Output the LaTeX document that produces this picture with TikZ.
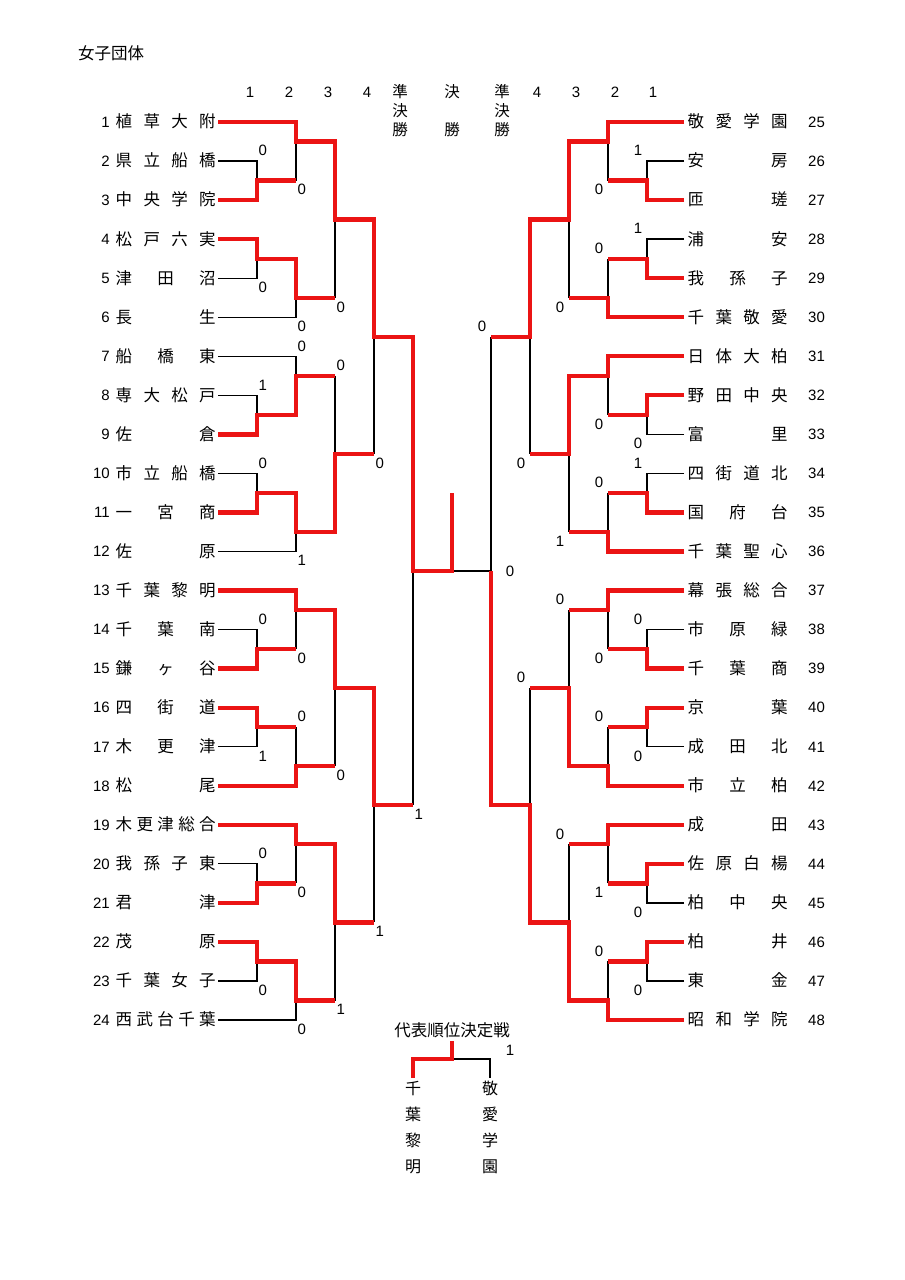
\documentclass[tikz,border=0pt]{standalone}
\usepackage{fontspec}
\setmainfont{Liberation Sans}
\newfontfamily\jpf{Noto Sans CJK JP}
\definecolor{winred}{RGB}{235,20,20}
\tikzset{
  win/.style={draw=winred,line width=4.3pt,line join=miter},
  lose/.style={draw=black,line width=1.3pt},
  jp/.style={font={\jpf\fontsize{16.5}{18}\selectfont},inner sep=0pt},
  num/.style={font={\fontsize{15}{16}\selectfont},inner sep=0pt},
  vjp/.style={font={\jpf\fontsize{16}{26}\selectfont},align=center,inner xsep=0pt,inner ysep=3pt},
  hjp/.style={font={\jpf\fontsize{15.5}{19}\selectfont},align=center,inner sep=0pt},
}
\newcommand\nm[1]{\hbox to 100pt{\spaceskip=0pt plus 1fil\relax #1}}
\begin{document}
\begin{tikzpicture}[x=1pt,y=-1pt]
\fill[white] (0,0) rectangle (905,1280);
\path[use as bounding box] (0,0) rectangle (905,1280);

% grid of named points
\foreach \n/\x in {Ls/218,L1/257,L2/296,L3/335,L4/374,L5/413,M/452,R5/491,R4/530,R3/569,R2/608,R1/647,Rs/684}{
  \foreach \r in {0,...,46}{\coordinate (\n-\r) at (\x,{122+19.522*\r});}
}

% title and headers
\node[font={\jpf\fontsize{16.5}{18}\selectfont},inner sep=0pt,anchor=west] (title) at (78,53) {女子団体};
\foreach \t/\x [count=\k] in {1/250,2/289,3/328,4/367,4/537,3/576,2/615,1/653}
  \node[num] (hd\k) at (\x,92) {\t};
\node[hjp,anchor=north] (hsL) at (400,84.5) {準\\決\\勝};
\node[hjp] (hf1) at (452,92) {決};
\node[hjp] (hf2) at (452,130) {勝};
\node[hjp,anchor=north] (hsR) at (502,84.5) {準\\決\\勝};

% teams left
\foreach \t [count=\i] in {植 草 大 附,県 立 船 橋,中 央 学 院,松 戸 六 実,津 田 沼,長 生,船 橋 東,専 大 松 戸,佐 倉,市 立 船 橋,一 宮 商,佐 原,千 葉 黎 明,千 葉 南,鎌 ヶ 谷,四 街 道,木 更 津,松 尾,木 更 津 総 合,我 孫 子 東,君 津,茂 原,千 葉 女 子,西 武 台 千 葉}{
  \pgfmathtruncatemacro\r{2*(\i-1)}
  \node[jp,anchor=base west] (nL\i) at ([shift={(-102.5,5.9)}]Ls-\r) {\nm{\t}};
  \node[num,anchor=base east] (kL\i) at ([shift={(-108,5.3)}]Ls-\r) {\i};
}
% teams right
\foreach \t [count=\i from 25] in {敬 愛 学 園,安 房,匝 瑳,浦 安,我 孫 子,千 葉 敬 愛,日 体 大 柏,野 田 中 央,富 里,四 街 道 北,国 府 台,千 葉 聖 心,幕 張 総 合,市 原 緑,千 葉 商,京 葉,成 田 北,市 立 柏,成 田,佐 原 白 楊,柏 中 央,柏 井,東 金,昭 和 学 院}{
  \pgfmathtruncatemacro\r{2*(\i-25)}
  \node[jp,anchor=base west] (nR\i) at ([shift={(3.5,5.9)}]Rs-\r) {\nm{\t}};
  \node[num,anchor=base west] (kR\i) at ([shift={(124,5.3)}]Rs-\r) {\i};
}

% losing lines (black)
\draw[lose] (Ls-2) -| (L1-3);
\draw[lose] (L2-3) -- (L2-1);
\draw[lose] (Ls-8) -| (L1-7);
\draw[lose] (Ls-10) -| (L2-9);
\draw[lose] (L3-9) -- (L3-5);
\draw[lose] (L4-17) -- (L4-11);
\draw[lose] (L5-35) -- (L5-23);
\draw[lose] (Ls-12) -| (L2-13);
\draw[lose] (Ls-14) -| (L1-15);
\draw[lose] (L3-13) -- (L3-17);
\draw[lose] (Ls-18) -| (L1-19);
\draw[lose] (Ls-22) -| (L2-21);
\draw[lose] (Ls-26) -| (L1-27);
\draw[lose] (L2-27) -- (L2-25);
\draw[lose] (L2-31) -- (L2-33);
\draw[lose] (Ls-32) -| (L1-31);
\draw[lose] (L3-33) -- (L3-29);
\draw[lose] (L4-41) -- (L4-35);
\draw[lose] (Ls-38) -| (L1-39);
\draw[lose] (L2-39) -- (L2-37);
\draw[lose] (Ls-44) -| (L1-43);
\draw[lose] (Ls-46) -| (L2-45);
\draw[lose] (L3-45) -- (L3-41);
\draw[lose] (M-23) -- (R5-23);
\draw[lose] (Rs-2) -| (R1-3);
\draw[lose] (R2-3) -- (R2-1);
\draw[lose] (Rs-6) -| (R1-7);
\draw[lose] (R2-7) -- (R2-9);
\draw[lose] (R3-9) -- (R3-5);
\draw[lose] (R4-17) -- (R4-11);
\draw[lose] (R5-11) -- (R5-23);
\draw[lose] (Rs-16) -| (R1-15);
\draw[lose] (R2-15) -- (R2-13);
\draw[lose] (Rs-18) -| (R1-19);
\draw[lose] (R2-19) -- (R2-21);
\draw[lose] (R3-21) -- (R3-17);
\draw[lose] (Rs-26) -| (R1-27);
\draw[lose] (R2-27) -- (R2-25);
\draw[lose] (R3-25) -- (R3-29);
\draw[lose] (Rs-32) -| (R1-31);
\draw[lose] (R2-31) -- (R2-33);
\draw[lose] (R4-29) -- (R4-35);
\draw[lose] (Rs-40) -| (R1-39);
\draw[lose] (R2-39) -- (R2-37);
\draw[lose] (R3-37) -- (R3-41);
\draw[lose] (Rs-44) -| (R1-43);
\draw[lose] (R2-43) -- (R2-45);

% winning lines (red)
\draw[win] (Ls-0) -| (L2-1) -| (L3-5) -| (L4-11) -| (L5-23) -| (M-19);
\draw[win] (Ls-4) -| (L1-3) -- (L2-3);
\draw[win] (Ls-6) -| (L1-7) -| (L2-9) -- (L3-9);
\draw[win] (Ls-16) -| (L1-15) -| (L2-13) -- (L3-13);
\draw[win] (Ls-20) -| (L1-19) -| (L2-21) -| (L3-17) -- (L4-17);
\draw[win] (Ls-24) -| (L2-25) -| (L3-29) -| (L4-35) -- (L5-35);
\draw[win] (Ls-28) -| (L1-27) -- (L2-27);
\draw[win] (Ls-30) -| (L1-31) -- (L2-31);
\draw[win] (Ls-34) -| (L2-33) -- (L3-33);
\draw[win] (Ls-36) -| (L2-37) -| (L3-41) -- (L4-41);
\draw[win] (Ls-40) -| (L1-39) -- (L2-39);
\draw[win] (Ls-42) -| (L1-43) -| (L2-45) -- (L3-45);
\draw[win] (Rs-0) -| (R2-1) -| (R3-5) -| (R4-11) -- (R5-11);
\draw[win] (Rs-4) -| (R1-3) -- (R2-3);
\draw[win] (Rs-8) -| (R1-7) -- (R2-7);
\draw[win] (Rs-10) -| (R2-9) -- (R3-9);
\draw[win] (Rs-12) -| (R2-13) -| (R3-17) -- (R4-17);
\draw[win] (Rs-14) -| (R1-15) -- (R2-15);
\draw[win] (Rs-20) -| (R1-19) -- (R2-19);
\draw[win] (Rs-22) -| (R2-21) -- (R3-21);
\draw[win] (Rs-24) -| (R2-25) -- (R3-25);
\draw[win] (Rs-28) -| (R1-27) -- (R2-27);
\draw[win] (Rs-30) -| (R1-31) -- (R2-31);
\draw[win] (Rs-34) -| (R2-33) -| (R3-29) -- (R4-29);
\draw[win] (Rs-36) -| (R2-37) -- (R3-37);
\draw[win] (Rs-38) -| (R1-39) -- (R2-39);
\draw[win] (Rs-42) -| (R1-43) -- (R2-43);
\draw[win] (Rs-46) -| (R2-45) -| (R3-41) -| (R4-35) -| (R5-23);

% scores left
\foreach \c/\r/\dy/\t [count=\k] in {L1/2/-10.5/0,L2/3/9/0,L1/8/9/0,L3/9/9/0,L2/10/9/0,L2/12/-10.5/0,L3/13/-10.5/0,L1/14/-10.5/1,L4/17/9/0,L1/18/-10.5/0,L2/22/9/1,L1/26/-10.5/0,L2/27/9/0,L2/31/-10.5/0,L1/32/9/1,L3/33/9/0,L5/35/9/1,L1/38/-10.5/0,L2/39/9/0,L4/41/9/1,L1/44/9/0,L3/45/9/1,L2/46/9/0}
  \node[num,anchor=base west] (sL\k) at ([shift={(1.5,\dy+5.3)}]\c-\r) {\t};
% scores right
\foreach \c/\r/\dy/\t [count=\k] in {R1/2/-10.5/1,R2/3/9/0,R1/6/-10.5/1,R2/7/-10.5/0,R3/9/9/0,R5/11/-10.5/0,R2/15/9/0,R1/16/9/0,R1/18/-10.5/1,R4/17/9/0,R2/19/-10.5/0,R3/21/9/1,R3/25/-10.5/0,R4/29/-10.5/0,R1/26/-10.5/0,R2/27/9/0,R2/31/-10.5/0,R1/32/9/0,R3/37/-10.5/0,R2/39/9/1,R1/40/9/0,R2/43/-10.5/0,R1/44/9/0}
  \node[num,anchor=base east] (sR\k) at ([shift={(-4.5,\dy+5.3)}]\c-\r) {\t};
\node[num] (sF) at ([shift={(19,0)}]R5-23) {0};

% representative ranking match
\node[font={\jpf\fontsize{16.5}{18}\selectfont},inner sep=0pt] (ptitle) at (452,1030) {代表順位決定戦};
\node[num] (pscore) at (510,1050) {1};
\node[vjp,anchor=north] (pA) at (413,1078) {千\\葉\\黎\\明};
\node[vjp,anchor=north] (pB) at (490,1078) {敬\\愛\\学\\園};
\coordinate (pTop) at (452,1041);
\coordinate (pJ) at (452,1059);
\draw[lose] (pJ) -| (pB.north);
\draw[win] (pTop) -- (pJ) -| (pA.north);
\end{tikzpicture}
\end{document}
